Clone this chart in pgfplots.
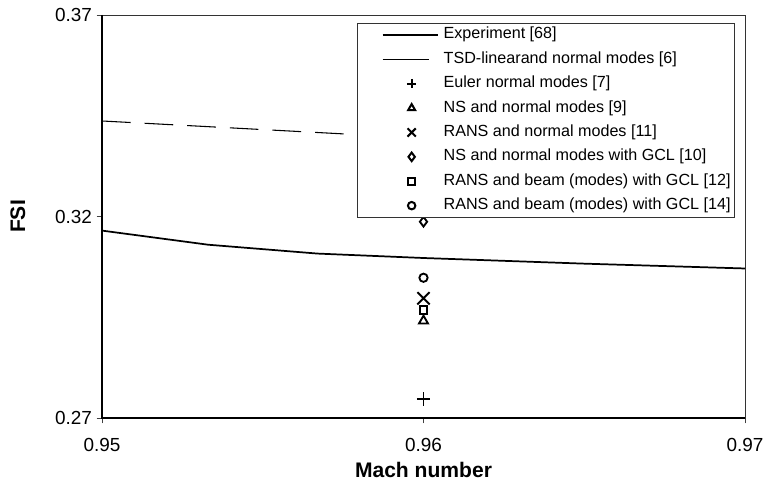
\documentclass[border=0pt]{standalone}
\usepackage{pgfplots}
\pgfplotsset{compat=1.18}
\usepackage{fontspec}
\setmainfont{Liberation Sans}
\begin{document}
\begin{tikzpicture}
\useasboundingbox (-76.5pt,-47.25pt) rectangle (498.75pt,313.5pt);
\begin{axis}[
  scale only axis,
  width=482.25pt, height=302.25pt,
  xmin=0.95, xmax=0.97, ymin=0.27, ymax=0.37,
  xtick={0.95,0.96,0.97}, ytick={0.27,0.32,0.37},
  xticklabels={0.95,0.96,0.97}, yticklabels={0.27,0.32,0.37},
  tick align=outside, xtick pos=bottom, ytick pos=left,
  major tick length=4pt,
  tick style={black!75, line width=0.6pt},
  axis line style={black!80, line width=0.6pt},
  /pgf/number format/assume math mode=true,
  tick label style={font=\fontsize{14.2}{17}\selectfont},
  xticklabel style={yshift=-7.5pt},
  xlabel={Mach number}, ylabel={FSI},
  label style={font=\bfseries\fontsize{15.8}{19}\selectfont},
  xlabel style={at={(axis description cs:0.5,0)}, anchor=base, yshift=-45pt},
  ylabel style={at={(axis description cs:-0.131,0.5)}, anchor=center},
  legend style={at={(axis description cs:1,1)}, anchor=north east,
    xshift=-7.5pt, yshift=-6pt, draw=black!80, line width=0.6pt,
    inner xsep=3pt, inner ysep=2.6pt, row sep=6.3pt,
    font=\fontsize{12.1}{14}\selectfont,
    nodes={inner sep=0pt, text height=9pt, text depth=3pt}},
  legend cell align=left,
  extra description/.code={
    \draw[black, line width=1.5pt] (axis description cs:0,1) -- (axis description cs:0,0) -- (axis description cs:1,0);
  },
]
\addplot[black, line width=1.3pt,
  legend image code/.code={\path[draw=none,fill=none] (0pt,0pt) -- (61.5pt,0pt); \draw[black,line width=1.3pt] (15.75pt,0pt) -- (57pt,0pt);}]
  coordinates {(0.95,0.3165) (0.9533,0.3130) (0.9567,0.3108) (0.96,0.3097) (0.965,0.3083) (0.97,0.3071)};
\addlegendentry{Experiment [68]}
\addplot[black, line width=0.8pt, dash pattern=on 21.5pt off 10.5pt,
  legend image code/.code={\path[draw=none,fill=none] (0pt,0pt) -- (61.5pt,0pt); \draw[black,line width=0.8pt,solid] (15.75pt,0pt) -- (50.25pt,0pt);}]
  coordinates {(0.95,0.3437) (0.9575,0.3405) (0.96,0.3396)};
\addlegendentry{TSD-linearand normal modes [6]}
\addplot[only marks, mark=+, mark size=5pt, black, mark options={line width=1.3pt},
  legend image code/.code={\path[draw=none,fill=none] (0pt,0pt) -- (61.5pt,0pt); \draw[black] plot[mark=+,mark size=3.6pt,mark options={line width=1.5pt}] coordinates {(37.5pt,0pt)};}]
  coordinates {(0.96,0.2747)};
\addlegendentry{Euler normal modes [7]}
\addplot[only marks, mark=triangle, mark size=3.9pt, black, mark options={line width=1.4pt},
  legend image code/.code={\path[draw=none,fill=none] (0pt,0pt) -- (61.5pt,0pt); \draw[black] plot[mark=triangle,mark size=3pt,mark options={line width=1.5pt}] coordinates {(37.5pt,0pt)};}]
  coordinates {(0.96,0.2941)};
\addlegendentry{NS and normal modes [9]}
\addplot[only marks, mark=x, mark size=6.5pt, black, mark options={line width=1.4pt},
  legend image code/.code={\path[draw=none,fill=none] (0pt,0pt) -- (61.5pt,0pt); \draw[black] plot[mark=x,mark size=4.4pt,mark options={line width=1.5pt}] coordinates {(37.5pt,0pt)};}]
  coordinates {(0.96,0.2997)};
\addlegendentry{RANS and normal modes [11]}
\addplot[only marks, mark=diamond, mark size=3.6pt, black, mark options={line width=1.4pt},
  legend image code/.code={\path[draw=none,fill=none] (0pt,0pt) -- (61.5pt,0pt); \draw[black] plot[mark=diamond,mark size=3.2pt,mark options={line width=1.5pt}] coordinates {(37.5pt,0pt)};}]
  coordinates {(0.96,0.3187)};
\addlegendentry{NS and normal modes with GCL [10]}
\addplot[only marks, mark=square, mark size=2.9pt, black, mark options={line width=1.4pt},
  legend image code/.code={\path[draw=none,fill=none] (0pt,0pt) -- (61.5pt,0pt); \draw[black] plot[mark=square,mark size=2.6pt,mark options={line width=1.5pt}] coordinates {(37.5pt,0pt)};}]
  coordinates {(0.96,0.2968)};
\addlegendentry{RANS and beam (modes) with GCL [12]}
\addplot[only marks, mark=o, mark size=3.1pt, black, mark options={line width=1.4pt},
  legend image code/.code={\path[draw=none,fill=none] (0pt,0pt) -- (61.5pt,0pt); \draw[black] plot[mark=o,mark size=2.8pt,mark options={line width=1.5pt}] coordinates {(37.5pt,0pt)};}]
  coordinates {(0.96,0.3048)};
\addlegendentry{RANS and beam (modes) with GCL [14]}
\end{axis}
\end{tikzpicture}
\end{document}
